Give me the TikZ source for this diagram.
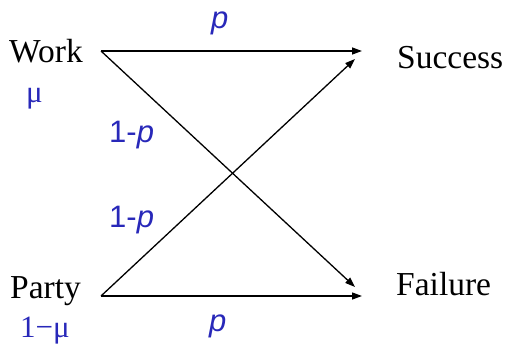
\documentclass[tikz,border=0pt]{standalone}
\usepackage{fontspec}
\setmainfont{Liberation Serif}
\newfontfamily\labelfont{Liberation Sans}
\usetikzlibrary{arrows.meta}
\definecolor{probblue}{RGB}{40,40,185}

\begin{document}
\begin{tikzpicture}[x=1pt, y=-1pt,
        st/.style={inner sep=0pt, font=\fontsize{33.5}{38}\selectfont},
        pr/.style={inner sep=0pt, text=probblue, font=\labelfont\fontsize{31}{36}\selectfont},
        mu/.style={inner sep=0pt, text=probblue, font=\fontsize{31}{36}\selectfont},
        arr/.style={-{Triangle[length=10pt,width=7pt]}, line width=1.3pt}]
      \useasboundingbox (0,0) rectangle (508,351);
      % states
      \node[st, anchor=base west] (work) at (9,62) {Work};
      \node[st, anchor=base west] (party) at (10,298) {Party};
      \node[st, anchor=base west] (success) at (397,68) {Success};
      \node[st, anchor=base west] (failure) at (396,295) {Failure};
      \node[mu, anchor=base west] (muw) at (26,102) {μ};
      \node[mu, anchor=base west] (mup) at (20,337) {1−μ};
      % line ends
      \coordinate (wout) at (101,51);
      \coordinate (pout) at (101,296);
      \coordinate (sin1) at (362,51);
      \coordinate (sin2) at (355,59);
      \coordinate (fin1) at (355,287);
      \coordinate (fin2) at (362,296);
      \draw[arr] (wout) -- (sin1);
      \draw[arr] (wout) -- (fin1);
      \draw[arr] (pout) -- (sin2);
      \draw[arr] (pout) -- (fin2);
      % probabilities
      \node[pr, anchor=base west] (pws) at (211,28) {\itshape p};
      \node[pr, anchor=base west] (pwf) at (109,142) {1-\itshape p};
      \node[pr, anchor=base west] (pps) at (109,227) {1-\itshape p};
      \node[pr, anchor=base west] (ppf) at (209,331) {\itshape p};
    \end{tikzpicture}
\end{document}
